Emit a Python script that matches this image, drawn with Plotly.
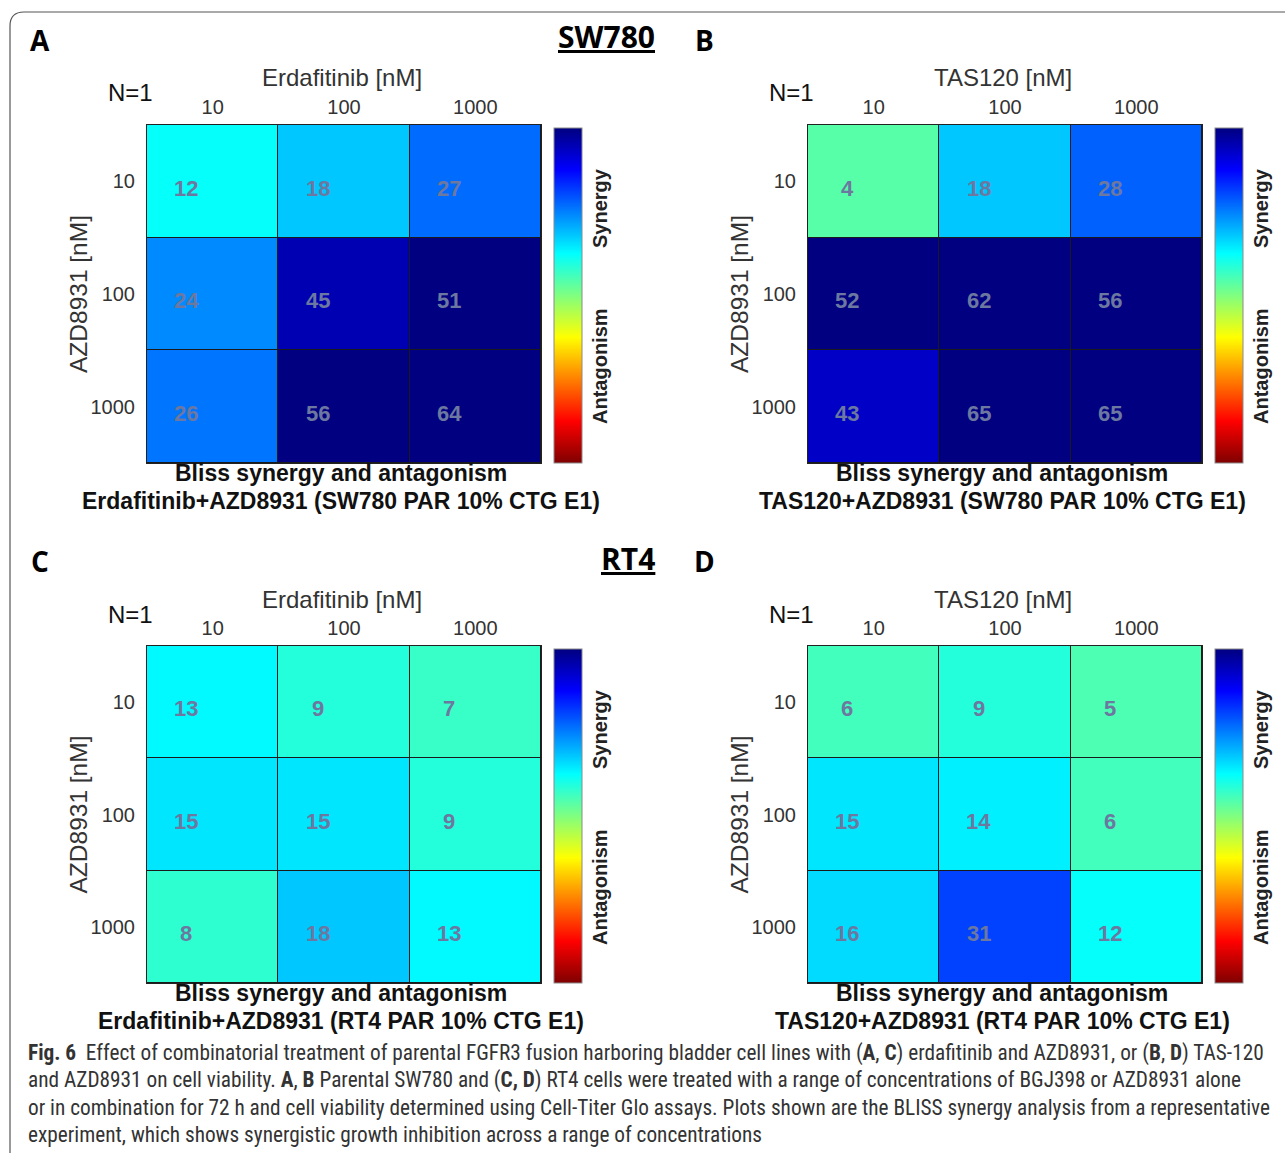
import plotly.graph_objects as go

W, H = 1285, 1153

# ---------------- data ----------------
conc_labels = ["10", "100", "1000"]
panel_A = [[12, 18, 27], [24, 45, 51], [26, 56, 64]]
panel_B = [[4, 18, 28], [52, 62, 56], [43, 65, 65]]
panel_C = [[13, 9, 7], [15, 15, 9], [8, 18, 13]]
panel_D = [[6, 9, 5], [15, 14, 6], [16, 31, 12]]
drug_x = ["Erdafitinib [nM]", "TAS120 [nM]", "Erdafitinib [nM]", "TAS120 [nM]"]
drug_y = "AZD8931 [nM]"
subtitles = [
    "Erdafitinib+AZD8931 (SW780 PAR 10% CTG E1)",
    "TAS120+AZD8931 (SW780 PAR 10% CTG E1)",
    "Erdafitinib+AZD8931 (RT4 PAR 10% CTG E1)",
    "TAS120+AZD8931 (RT4 PAR 10% CTG E1)",
]
letters = ["A", "B", "C", "D"]
cell_lines = {"A": "SW780", "C": "RT4"}
caption_lines = [
    "<b>Fig. 6</b>  Effect of combinatorial treatment of parental FGFR3 fusion harboring bladder cell lines with (<b>A</b>, <b>C</b>) erdafitinib and AZD8931, or (<b>B</b>, <b>D</b>) TAS-120",
    "and AZD8931 on cell viability. <b>A</b>, <b>B</b> Parental SW780 and (<b>C, D</b>) RT4 cells were treated with a range of concentrations of BGJ398 or AZD8931 alone",
    "or in combination for 72 h and cell viability determined using Cell-Titer Glo assays. Plots shown are the BLISS synergy analysis from a representative",
    "experiment, which shows synergistic growth inhibition across a range of concentrations",
]

# reversed MATLAB jet (high = synergy = dark blue)
jet_r = [
    [0.0, "rgb(128,0,0)"],
    [0.125, "rgb(255,0,0)"],
    [0.375, "rgb(255,255,0)"],
    [0.625, "rgb(0,255,255)"],
    [0.875, "rgb(0,0,255)"],
    [1.0, "rgb(0,0,128)"],
]

def px(x):
    return x / W

def py(y):
    return 1 - y / H

# panel pixel boxes (left, right, top, bottom)
boxes = [
    (147, 541, 125, 463),
    (808, 1202, 125, 463),
    (147, 541, 646, 983),
    (808, 1202, 646, 983),
]
panels = [panel_A, panel_B, panel_C, panel_D]

AXIS_FONT = "Liberation Sans, Arial, sans-serif"
LABEL_FONT = "Open Sans, Liberation Sans, sans-serif"

fig = go.Figure()
annotations = []
layout = {}

def note(x, y, text, size, color="#111111", family=AXIS_FONT, angle=0,
         xanchor="center", yanchor="middle", xref="paper", yref="paper"):
    annotations.append(dict(
        x=x, y=y, xref=xref, yref=yref, text=text, showarrow=False,
        xanchor=xanchor, yanchor=yanchor, textangle=angle,
        font=dict(family=family, size=size, color=color),
    ))

for i, (z, (l, r, t, b)) in enumerate(zip(panels, boxes)):
    n = i + 1
    xa = "x" if n == 1 else f"x{n}"
    ya = "y" if n == 1 else f"y{n}"
    fig.add_trace(go.Heatmap(
        z=z, x=[0, 1, 2], y=[0, 1, 2],
        xaxis=xa, yaxis=ya,
        colorscale=jet_r, zmin=-50, zmax=50,
        xgap=1, ygap=1, hoverinfo="skip",
        colorbar=dict(
            x=px(r + 13), xanchor="left", xpad=0,
            y=py(t + 3), yanchor="top", ypad=0,
            len=b - t - 3, lenmode="pixels",
            thickness=28, thicknessmode="pixels",
            showticklabels=False, ticks="",
            outlinewidth=1, outlinecolor="#8a8a8a",
        ),
    ))
    xkey = "xaxis" if n == 1 else f"xaxis{n}"
    ykey = "yaxis" if n == 1 else f"yaxis{n}"
    layout[xkey] = dict(
        domain=[px(l), px(r)], anchor=ya, side="top",
        range=[-0.5, 2.5], tickvals=[0, 1, 2], ticktext=conc_labels,
        showgrid=False, zeroline=False, ticks="", ticklabelstandoff=2,
        tickfont=dict(family=AXIS_FONT, size=20, color="#333333"),
        showline=True, mirror=True, linecolor="#222222", linewidth=1,
    )
    layout[ykey] = dict(
        domain=[py(b), py(t)], anchor=xa,
        range=[2.5, -0.5], tickvals=[0, 1, 2], ticktext=conc_labels,
        showgrid=False, zeroline=False, ticks="", ticklabelstandoff=7,
        tickfont=dict(family=AXIS_FONT, size=20, color="#333333"),
        showline=True, mirror=True, linecolor="#222222", linewidth=1,
    )
    # cell values
    for ri, row in enumerate(z):
        for ci, v in enumerate(row):
            note(ci - 0.2, ri + 0.06, f"<b>{v}</b>", 22, color="#6c78a0",
                 xref=xa, yref=ya)
    cx = (l + r) / 2
    note(px(cx - 2), py(t - 47), drug_x[i], 24, color="#333333")
    note(px(l - 69), py((t + b) / 2), drug_y, 24.5, color="#333333", angle=-90)
    note(px(l - 17), py(t - 32), "N=1", 24, color="#111111")
    note(px(cx - 3), py(b + 10), "<b>Bliss synergy and antagonism</b>", 23)
    note(px(cx - 3), py(b + 38), f"<b>{subtitles[i]}</b>", 23)
    note(px(r + 59), py(t + 83), "<b>Synergy</b>", 20, color="#222222", angle=-90)
    note(px(r + 59), py(t + 241), "<b>Antagonism</b>", 20, color="#222222", angle=-90)
    note(px(l - 107 + (0 if i % 2 == 0 else 3)), py(t - 85), f"<b>{letters[i]}</b>", 28,
         color="#000000", family=LABEL_FONT)
    if letters[i] in cell_lines:
        note(px(r + 116), py(t - 88), f"<b><u>{cell_lines[letters[i]]}</u></b>", 30,
             color="#000000", family=LABEL_FONT, xanchor="right")

# caption
for k, line in enumerate(caption_lines):
    note(px(26), py(1053 + 27 * k), line, 21.3, color="#333333",
         family="Liberation Sans Narrow, Roboto Condensed, Open Sans, sans-serif",
         xanchor="left")

# frame (rounded top-left corner)
rr = 14
path = (f"M {px(10)},{py(1160)} L {px(10)},{py(12 + rr)} "
        f"Q {px(10)},{py(12)} {px(10 + rr)},{py(12)} L {px(1290)},{py(12)}")
shapes = [dict(type="path", path=path, xref="paper", yref="paper",
               line=dict(color="#555555", width=1.2))]

fig.update_layout(
    width=W, height=H,
    margin=dict(l=0, r=0, t=0, b=0),
    paper_bgcolor="white", plot_bgcolor="#1a1a1a",
    showlegend=False,
    annotations=annotations, shapes=shapes,
    **layout,
)

fig.write_html("out.html", config={"displayModeBar": False},
               post_script="document.body.style.margin='0';document.body.style.overflow='hidden';")
